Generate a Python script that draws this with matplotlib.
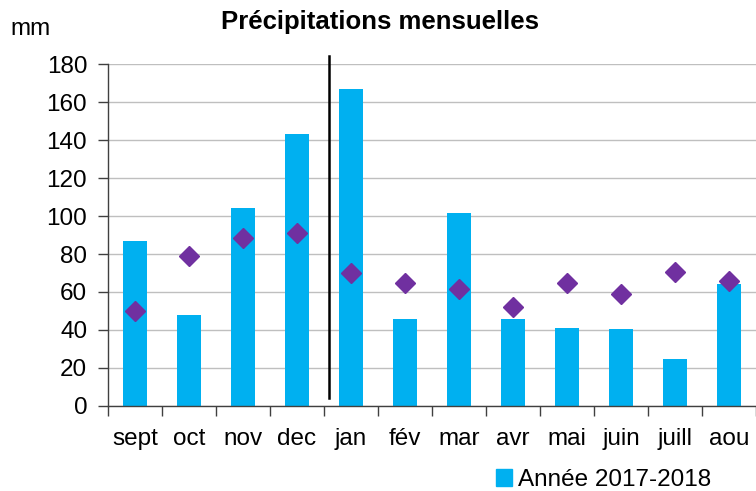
import numpy as np
import matplotlib.pyplot as plt
from matplotlib.patches import Patch

plt.rcParams['font.family'] = ['Liberation Sans', 'DejaVu Sans']

mois = ['sept', 'oct', 'nov', 'dec', 'jan', 'fév', 'mar', 'avr', 'mai', 'juin', 'juill', 'aou']
pluie_2017_2018 = [87.0, 48.0, 104.2, 143.0, 166.8, 46.0, 101.4, 45.8, 41.0, 40.3, 24.6, 64.0]
normale = [50.0, 79.1, 88.4, 91.2, 69.8, 64.7, 61.4, 52.1, 64.7, 58.9, 70.5, 65.8]

bar_color = '#00B0F0'
diamond_color = '#7030A0'
fs = 17.5

fig = plt.figure(figsize=(7.56, 4.91), dpi=100)
ax = fig.add_axes([108 / 756, 1 - 406 / 491, 648 / 756, 342 / 491])

x = np.arange(len(mois))
ax.bar(x, pluie_2017_2018, width=0.45, color=bar_color, zorder=2)
ax.plot(x, normale, linestyle='none', marker='D', ms=10, color=diamond_color, zorder=3)

# separation between 2017 and 2018
ax.plot([3.59, 3.59], [4, 184], color='black', lw=1.8, clip_on=False, zorder=4)

ax.set_xlim(-0.5, len(mois) - 0.5)
ax.set_ylim(0, 180)
ax.set_yticks(np.arange(0, 181, 20))
ax.set_xticks(x)
ax.set_xticklabels(mois)
ax.set_xticks(np.arange(-0.5, len(mois)), minor=True)
ax.tick_params(axis='x', which='major', length=0, labelsize=fs, pad=16)
ax.tick_params(axis='x', which='minor', length=7, width=1, color='#404040')
ax.tick_params(axis='y', length=7, width=1, color='#404040', labelsize=fs, pad=8)

ax.grid(axis='y', color='#BFBFBF', lw=1, zorder=0)
ax.set_axisbelow(True)
for side in ['top', 'right']:
    ax.spines[side].set_visible(False)
for side in ['left', 'bottom']:
    ax.spines[side].set_color('#404040')
    ax.spines[side].set_linewidth(1)

fig.text(380 / 756, 1 - 22 / 491, 'Précipitations mensuelles', ha='center', va='center',
         fontsize=18.5, fontweight='bold')
fig.text(10 / 756, 1 - 29 / 491, 'mm', ha='left', va='center', fontsize=fs)

fig.legend(handles=[Patch(color=bar_color, label='Année 2017-2018')],
           loc='center left', bbox_to_anchor=(496 / 756, 1 - 480 / 491),
           frameon=False, fontsize=fs, handlelength=0.65, handleheight=0.65,
           handletextpad=0.25, borderpad=0, borderaxespad=0)

fig.savefig('out.png', dpi=100)
